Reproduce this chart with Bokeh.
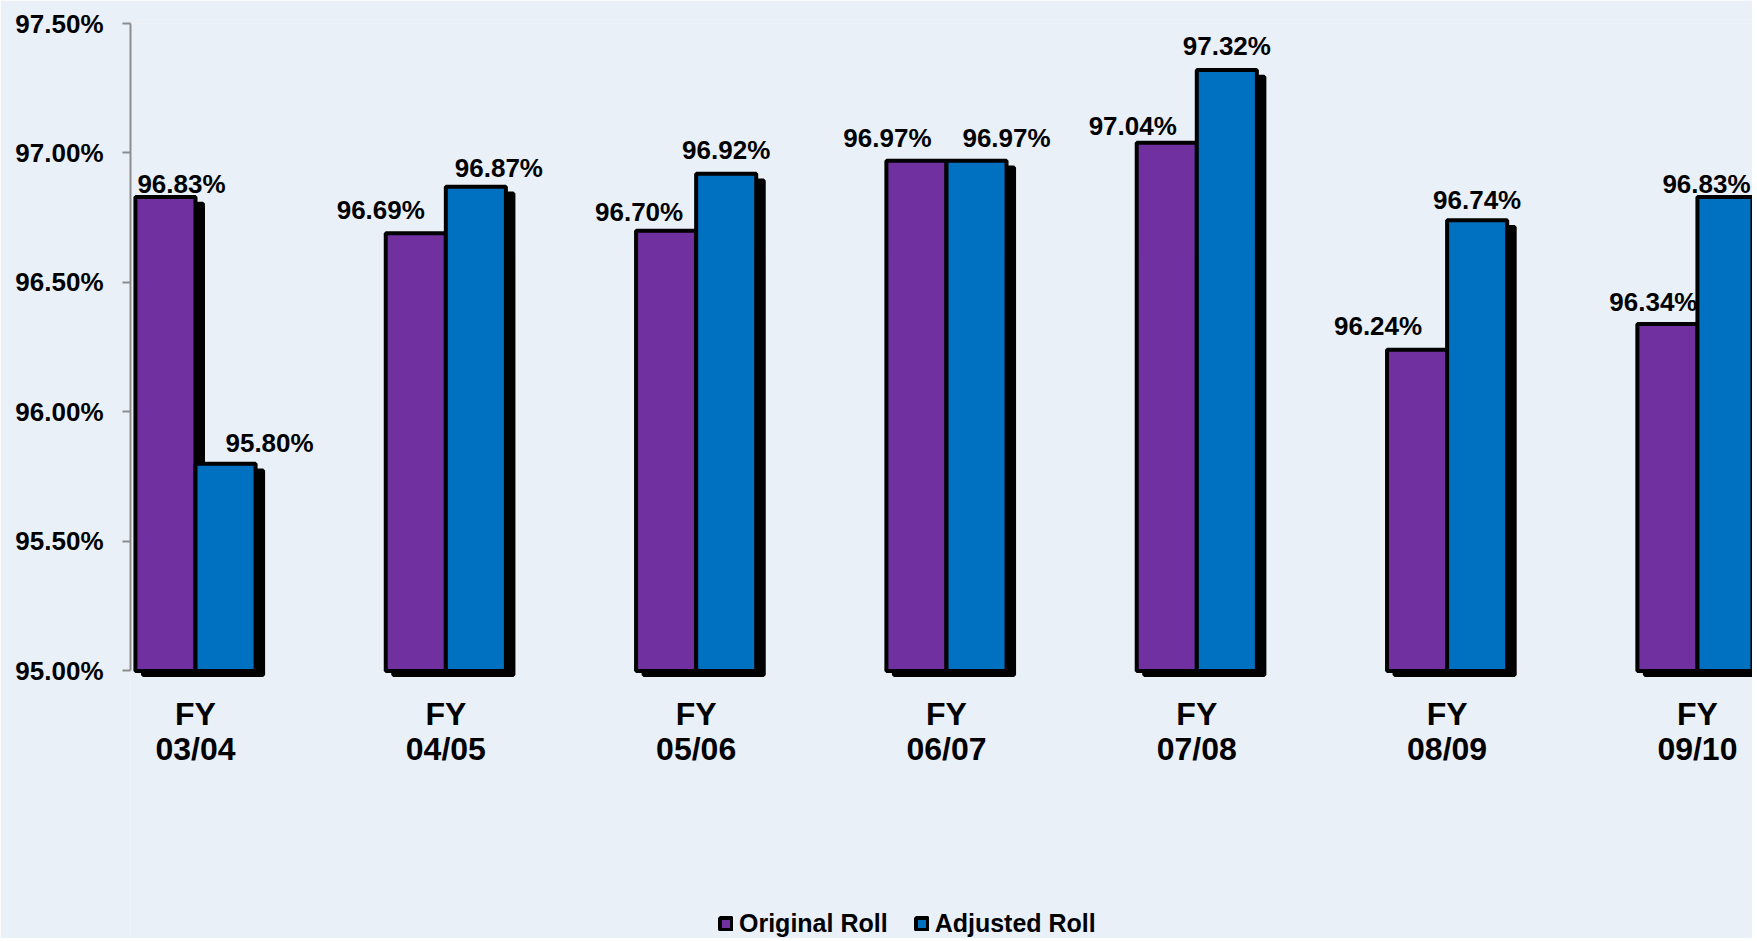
from bokeh.plotting import figure
from bokeh.models import (ColumnDataSource, FixedTicker, PrintfTickFormatter,
                          Legend, LegendItem, Range1d)
from bokeh.transform import dodge
from bokeh.core.properties import value
from bokeh.embed import file_html
from bokeh.resources import INLINE

# ---------------- data ----------------
categories = ["FY\n03/04", "FY\n04/05", "FY\n05/06", "FY\n06/07",
              "FY\n07/08", "FY\n08/09", "FY\n09/10"]
original_roll = [96.83, 96.69, 96.70, 96.97, 97.04, 96.24, 96.34]
adjusted_roll = [95.80, 96.87, 96.92, 96.97, 97.32, 96.74, 96.83]
y_ticks = [95.00, 95.50, 96.00, 96.50, 97.00, 97.50]
series_names = ["Original Roll", "Adjusted Roll"]

# label nudges in screen pixels (style only)
orig_label_dx = [16, -35, -27, -29, -34, -39, -14]
adj_label_dx = [44, 23, 0, 30, 0, 0, -21]
orig_label_rise = [13, 23, 19, 23, 17, 24, 22]
adj_label_rise = [21, 19, 24, 23, 24, 20, 13]

# ---------------- styles ----------------
FONT = "Liberation Sans"
PURPLE = "#7030A0"
BLUE = "#0070C0"
BG = "#eaf0f8"
BAR_W = 0.24
HALF = BAR_W / 2
SH_DX = 0.030     # shadow offset (data units)
SH_DY = 0.026
Y0, Y1 = y_ticks[0], y_ticks[-1]

idx = list(range(len(categories)))
src = ColumnDataSource(dict(
    x=idx,
    cat=categories,
    base=[Y0] * len(idx),
    orig=original_roll,
    adj=adjusted_roll,
    orig_txt=["%.2f%%" % v for v in original_roll],
    adj_txt=["%.2f%%" % v for v in adjusted_roll],
    orig_dx=orig_label_dx,
    adj_dx=adj_label_dx,
    orig_dy=[-r for r in orig_label_rise],
    adj_dy=[-r for r in adj_label_rise],
))

p = figure(width=1752, height=938, output_backend="svg", toolbar_location=None,
           x_range=Range1d(-0.2597, 6.220), y_range=Range1d(93.967, Y1),
           min_border_left=130, min_border_right=0, min_border_top=23,
           min_border_bottom=0)
p.background_fill_color = BG
p.border_fill_color = BG
p.outline_line_color = None
p.grid.visible = False
p.xaxis.visible = False

# shadows
for fld, off in (("orig", -HALF), ("adj", HALF)):
    p.vbar(x=dodge("x", off + SH_DX), top=dodge(fld, -SH_DY),
           bottom=Y0 - 0.6 * SH_DY, width=BAR_W, source=src,
           fill_color="black", line_color="black", line_width=4)

r_orig = p.vbar(x=dodge("x", -HALF), top="orig", bottom=Y0, width=BAR_W,
                source=src, fill_color=PURPLE, line_color="black", line_width=4)
r_adj = p.vbar(x=dodge("x", HALF), top="adj", bottom=Y0, width=BAR_W,
               source=src, fill_color=BLUE, line_color="black", line_width=4)

# value labels
for fld, off, txt, dx, dy in (("orig", -HALF, "orig_txt", "orig_dx", "orig_dy"),
                              ("adj", HALF, "adj_txt", "adj_dx", "adj_dy")):
    p.text(x=dodge("x", off), y=fld, text=txt, x_offset=dx, y_offset=dy,
           source=src, text_align="center", text_baseline="middle",
           text_font=value(FONT), text_font_style="bold",
           text_font_size="26px", text_color="black")

# category labels under each group
p.text(x="x", y="base", text="cat", y_offset=25, source=src,
       text_align="center", text_baseline="top", text_font=value(FONT),
       text_font_style="bold", text_font_size="32px", text_line_height=0.98,
       text_color="black")

# y axis
ya = p.yaxis[0]
ya.ticker = FixedTicker(ticks=y_ticks)
ya.formatter = PrintfTickFormatter(format="%.2f%%")
ya.bounds = (Y0, Y1)
ya.axis_line_color = "#8c8c8c"
ya.axis_line_width = 2
ya.major_tick_line_color = "#8c8c8c"
ya.major_tick_line_width = 2
ya.major_tick_out = 8
ya.major_tick_in = 0
ya.minor_tick_line_color = None
ya.major_label_standoff = 19
ya.major_label_text_font = FONT
ya.major_label_text_font_style = "bold"
ya.major_label_text_font_size = "26px"
ya.major_label_text_color = "black"

legend = Legend(items=[LegendItem(label=series_names[0], renderers=[r_orig]),
                       LegendItem(label=series_names[1], renderers=[r_adj])],
                location=(588, 0), orientation="horizontal",
                border_line_color=None, background_fill_alpha=0,
                padding=0, margin=0, glyph_width=15, glyph_height=15,
                label_standoff=6, spacing=26,
                label_text_font=FONT, label_text_font_style="bold",
                label_text_font_size="25px", label_text_color="black")
p.add_layout(legend)

open("out.html", "w").write(file_html(p, INLINE))
